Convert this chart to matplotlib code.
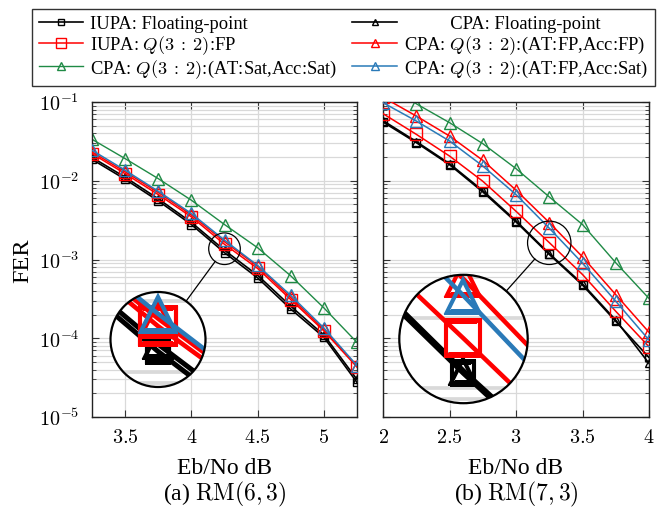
import numpy as np
import matplotlib
matplotlib.use("Agg")
import matplotlib.pyplot as plt
from matplotlib.patches import Circle
from matplotlib.lines import Line2D
from matplotlib.transforms import IdentityTransform
from matplotlib.ticker import FuncFormatter, FixedLocator, LogLocator, NullFormatter

plt.rcParams['font.family'] = ['Liberation Serif', 'DejaVu Serif']
plt.rcParams['mathtext.fontset'] = 'cm'

# ---------------- data ----------------
x_a = [3.25, 3.5, 3.75, 4.0, 4.25, 4.5, 4.75, 5.0, 5.25]
iupa_float_a = [0.0187, 0.01045, 0.00555, 0.00278, 0.00122, 5.85e-4, 2.35e-4, 1.03e-4, 2.75e-5]
cpa_float_a = [0.0198, 0.0111, 0.0059, 0.00296, 0.00131, 6.3e-4, 2.55e-4, 1.10e-4, 3.0e-5]
iupa_q_a = [0.0221, 0.0123, 0.00668, 0.00348, 0.00156, 7.7e-4, 3.1e-4, 1.24e-4, 4.3e-5]
cpa_fpfp_a = [0.0232, 0.0130, 0.0071, 0.00368, 0.00168, 8.2e-4, 3.3e-4, 1.30e-4, 4.4e-5]
cpa_satsat_a = [0.0336, 0.0191, 0.01064, 0.00566, 0.00278, 0.00141, 6.2e-4, 2.43e-4, 8.85e-5]
cpa_fpsat_a = [0.0244, 0.0136, 0.00736, 0.00384, 0.00176, 8.4e-4, 3.5e-4, 1.35e-4, 4.5e-5]

x_b = [2.0, 2.25, 2.5, 2.75, 3.0, 3.25, 3.5, 3.75, 4.0]
iupa_float_b = [0.0557, 0.0305, 0.0160, 0.00722, 0.0030, 0.00116, 4.73e-4, 1.64e-4, 5.7e-5]
cpa_float_b = [0.0580, 0.0315, 0.0165, 0.0075, 0.0031, 0.00119, 4.9e-4, 1.70e-4, 4.8e-5]
iupa_q_b = [0.0711, 0.0389, 0.0206, 0.00986, 0.0041, 0.00164, 6.45e-4, 2.2e-4, 7.8e-5]
cpa_fpfp_b = [0.115, 0.0664, 0.0370, 0.0182, 0.0076, 0.00295, 1.08e-3, 3.58e-4, 1.19e-4]
cpa_satsat_b = [0.20, 0.095, 0.0547, 0.0296, 0.01426, 0.00624, 0.00278, 9.1e-4, 3.2e-4]
cpa_fpsat_b = [0.098, 0.0574, 0.0320, 0.0154, 0.00668, 0.0025, 9.0e-4, 2.95e-4, 9.5e-5]

labels = ["IUPA: Floating-point",
          r"IUPA: $Q(3\::\:2)$:FP",
          r"CPA: $Q(3\::\:2)$:(AT:Sat,Acc:Sat)",
          "          CPA: Floating-point",
          r"CPA: $Q(3\::\:2)$:(AT:FP,Acc:FP)",
          r"CPA: $Q(3\::\:2)$:(AT:FP,Acc:Sat)"]

xticks_a = [3.5, 4.0, 4.5, 5.0]
xticks_b = [2.0, 2.5, 3.0, 3.5, 4.0]

RED = '#ff0000'
GREEN = '#1f8a45'
BLUE = '#2a7ab8'
BLACK = '#000000'

# style per series: (color, marker, markersize, linewidth)
styles = [
    (BLACK, 's', 5.5, 1.2),   # IUPA float
    (RED, 's', 8.5, 1.1),     # IUPA Q FP
    (GREEN, '^', 8, 1.0),     # CPA Sat Sat
    (BLACK, '^', 6, 1.2),     # CPA float
    (RED, '^', 8, 1.1),       # CPA FP FP
    (BLUE, '^', 8, 1.1),      # CPA FP Sat
]
zorders = [3, 4, 2, 3, 5, 6]

series_a = [iupa_float_a, iupa_q_a, cpa_satsat_a, cpa_float_a, cpa_fpfp_a, cpa_fpsat_a]
series_b = [iupa_float_b, iupa_q_b, cpa_satsat_b, cpa_float_b, cpa_fpfp_b, cpa_fpsat_b]

W, H = 661, 510
fig = plt.figure(figsize=(W / 100, H / 100), dpi=100)

ax_a = fig.add_axes([92 / W, 1 - 418 / H, 265 / W, 315 / H])
ax_b = fig.add_axes([383 / W, 1 - 418 / H, 266 / W, 315 / H])

GRID = '#d9d9d9'


def plot_series(ax, x, series, scale=1.0, clip=None):
    handles = []
    for s, (c, m, ms, lw), z in zip(series, styles, zorders):
        h, = ax.plot(x, s, color=c, marker=m, ms=ms * scale, lw=lw * scale,
                     mfc='none', mec=c, mew=1.0 * scale, zorder=z)
        if clip is not None:
            h.set_clip_path(clip)
        handles.append(h)
    return handles


def style_axes(ax, xlim, xticks, show_ylabels):
    ax.set_yscale('log')
    ax.set_xlim(*xlim)
    ax.set_ylim(1e-5, 1e-1)
    ax.xaxis.set_major_locator(FixedLocator(xticks))
    ax.xaxis.set_major_formatter(FuncFormatter(lambda v, p: r'$%g$' % v))
    ax.yaxis.set_major_locator(LogLocator(base=10, numticks=10))
    ax.yaxis.set_minor_locator(LogLocator(base=10, subs=np.arange(2, 10), numticks=10))
    ax.yaxis.set_minor_formatter(NullFormatter())
    if show_ylabels:
        ax.yaxis.set_major_formatter(FuncFormatter(lambda v, p: r'$10^{%d}$' % int(round(np.log10(v)))))
    else:
        ax.yaxis.set_major_formatter(NullFormatter())
    ax.tick_params(which='both', direction='in', top=True, right=True, labelsize=14.5, colors='#333333', labelcolor='black')
    ax.tick_params(which='major', length=5, width=0.8)
    ax.tick_params(which='minor', length=3, width=0.6)
    ax.tick_params(axis='x', pad=8)
    ax.tick_params(axis='y', pad=9)
    ax.grid(True, which='major', axis='both', color=GRID, lw=0.9, zorder=0)
    ax.grid(True, which='minor', axis='y', color=GRID, lw=0.9, zorder=0)
    ax.set_axisbelow(True)
    for sp in ax.spines.values():
        sp.set_linewidth(1.0)
        sp.set_color('#222222')
    ax.set_xlabel('Eb/No dB', fontsize=17, labelpad=7)


handles = plot_series(ax_a, x_a, series_a)
plot_series(ax_b, x_b, series_b)
style_axes(ax_a, (3.25, 5.25), xticks_a, True)
style_axes(ax_b, (2.0, 4.0), xticks_b, False)
ax_a.set_ylabel('FER', fontsize=17.5, labelpad=4)

fig.text((92 + 357) / 2 / W, 1 - 494 / H, r'(a) $\mathrm{RM}(6,3)$', ha='center', va='center', fontsize=17)
fig.text((383 + 649) / 2 / W, 1 - 494 / H, r'(b) $\mathrm{RM}(7,3)$', ha='center', va='center', fontsize=17)


def spy(ax, x, series, xc, yc, r_small, big_px, r_big):
    fig.canvas.draw()
    sx, sy = ax.transData.transform((xc, yc))
    bx, by = big_px[0], H - big_px[1]
    mag = r_big / r_small
    x0, x1 = ax.get_xlim()
    ppx = ax.bbox.width / (x1 - x0)
    ppd = ax.bbox.height / 4.0
    hx = r_small / ppx
    hy = r_small / ppd
    axi = fig.add_axes([(bx - r_big) / W, (by - r_big) / H, 2 * r_big / W, 2 * r_big / H])
    axi.set_yscale('log')
    axi.set_xlim(xc - hx, xc + hx)
    ly = np.log10(yc)
    axi.set_ylim(10 ** (ly - hy), 10 ** (ly + hy))
    axi.axis('off')
    axi.patch.set_visible(False)
    bg = Circle((0.5, 0.5), 0.5, transform=axi.transAxes, facecolor='white', edgecolor='none', zorder=0)
    axi.add_patch(bg)
    clip = Circle((0.5, 0.5), 0.5, transform=axi.transAxes, facecolor='none', edgecolor='none')
    axi.add_patch(clip)
    clip.set_visible(False)
    # magnified grid
    for d in range(-6, 0):
        for k in range(1, 10):
            v = k * 10.0 ** d
            if 10 ** (ly - hy) < v < 10 ** (ly + hy):
                gl = axi.axhline(v, color=GRID, lw=0.9 * mag, zorder=1)
                gl.set_clip_path(clip)
    for t in ax.get_xticks():
        if xc - hx < t < xc + hx:
            gl = axi.axvline(t, color=GRID, lw=0.9 * mag, zorder=1)
            gl.set_clip_path(clip)
    plot_series(axi, x, series, scale=mag, clip=clip)
    edge = Circle((0.5, 0.5), 0.5, transform=axi.transAxes, facecolor='none', edgecolor='black', lw=1.6, zorder=10, clip_on=False)
    axi.add_patch(edge)
    small = Circle((sx, sy), r_small, transform=IdentityTransform(), facecolor='none', edgecolor='black', lw=0.9, zorder=20)
    fig.add_artist(small)
    d = np.array([bx - sx, by - sy])
    u = d / np.linalg.norm(d)
    p0 = np.array([sx, sy]) + u * r_small
    p1 = np.array([bx, by]) - u * r_big
    ln = Line2D([p0[0], p1[0]], [p0[1], p1[1]], transform=IdentityTransform(), color='black', lw=0.9, zorder=20)
    fig.add_artist(ln)


spy(ax_a, x_a, series_a, 4.25, 1.37e-3, 15.8, (158, 340.5), 47.5)
spy(ax_b, x_b, series_b, 3.25, 1.63e-3, 21.7, (463.5, 340), 64.2)

# legend
leg_handles = []
for (c, m, ms, lw) in styles:
    leg_handles.append(Line2D([], [], color=c, marker=m, ms=ms * 0.8, lw=lw, mfc='none', mec=c, mew=1.0))
leg = fig.legend(leg_handles, labels, ncol=2, loc='upper center',
                 bbox_to_anchor=(343.5 / W, 1 - 10 / H),
                 fontsize=13.3, frameon=True, fancybox=False, edgecolor='#333333', framealpha=1,
                 handlelength=2.4, handletextpad=0.4, labelspacing=0.05, borderpad=0.35,
                 columnspacing=0.8, borderaxespad=0)
leg.get_frame().set_linewidth(1.0)

fig.savefig('out.png', dpi=100)
